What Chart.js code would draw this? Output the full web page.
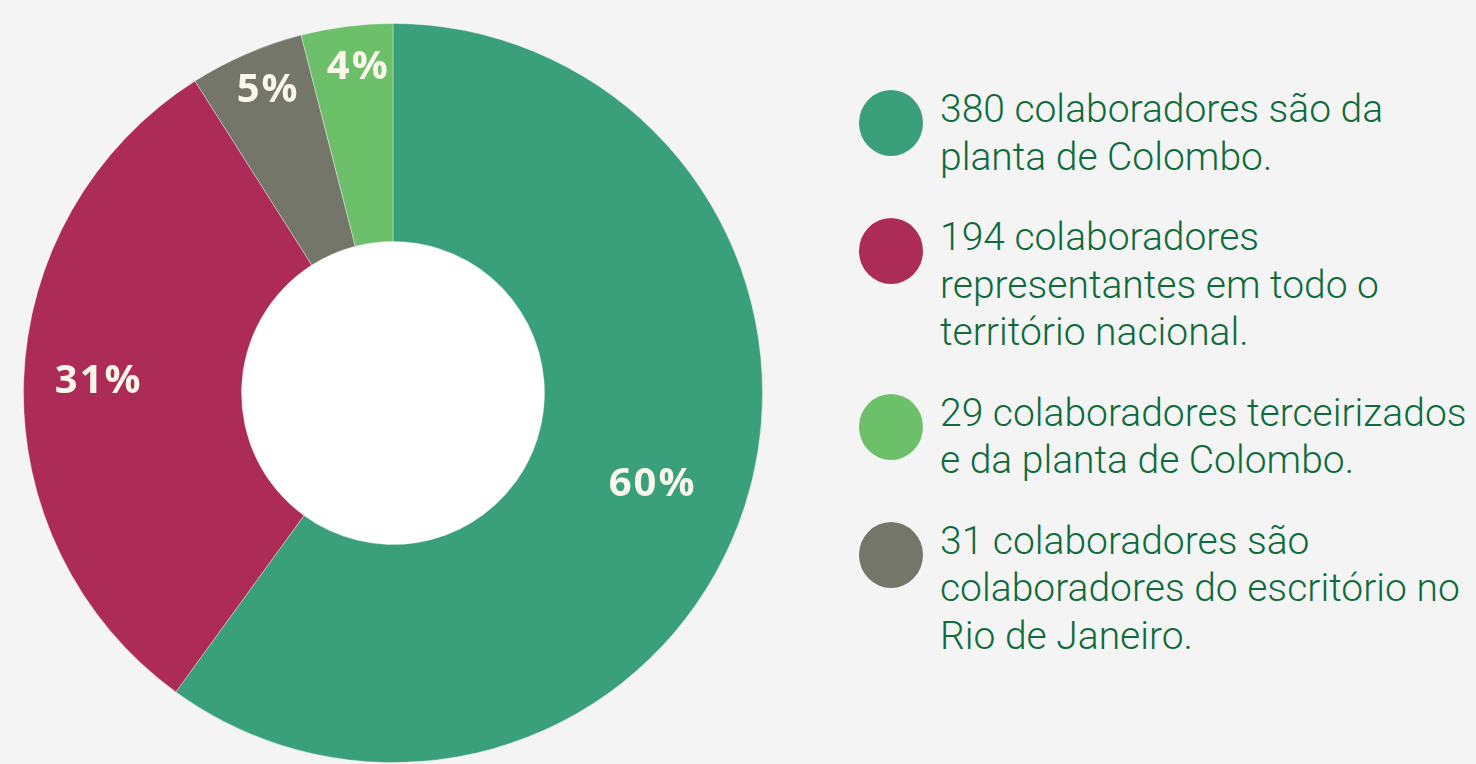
<!DOCTYPE html>
<html lang="pt-BR">
<head>
<meta charset="utf-8">
<title>Colaboradores</title>
<script src="https://cdn.jsdelivr.net/npm/chart.js@4.4.1/dist/chart.umd.min.js"></script>
<style>
    html, body {
        margin: 0;
        padding: 0;
        width: 1476px;
        height: 764px;
        overflow: hidden;
        background: #f4f4f4;
    }
    #chart-box {
        position: absolute;
        left: 23px;
        top: 23px;
        width: 740px;
        height: 740px;
    }
    #legend {
        position: absolute;
        left: 859px;
        top: 86px;
        list-style: none;
        margin: 0;
        padding: 0;
        font-family: Roboto, sans-serif;
        font-weight: 300;
        font-size: 39px;
        line-height: 47.5px;
        color: #0f6a3c;
    }
    #legend li {
        display: flex;
        align-items: flex-start;
        margin-bottom: 33px;
    }
    #legend .dot {
        flex: none;
        width: 64px;
        height: 66px;
        border-radius: 50%;
        margin-top: 4px;
        margin-right: 17px;
    }
</style>
</head>
<body>
<div id="chart-box"><canvas id="donut"></canvas></div>
<ul id="legend"></ul>

<script>
// DATI (ordine delle fette, in senso orario dall'alto)
const values = [60, 31, 5, 4];
const colors = ['#3a9f7b', '#ad2c57', '#74766a', '#6cc06a'];
const legendLines = [
    ['380 colaboradores são da', 'planta de Colombo.'],
    ['194 colaboradores', 'representantes em todo o', 'território nacional.'],
    ['31 colaboradores são', 'colaboradores do escritório no', 'Rio de Janeiro.'],
    ['29 colaboradores terceirizados', 'e da planta de Colombo.']
];
// la legenda mostra le voci in un ordine diverso
const legendOrder = [0, 1, 3, 2];

const total = values.reduce((a, b) => a + b, 0);

// foro centrale bianco
const whiteHole = {
    id: 'whiteHole',
    beforeDatasetsDraw(chart) {
        const arc = chart.getDatasetMeta(0).data[0];
        if (!arc) return;
        const ctx = chart.ctx;
        ctx.save();
        ctx.fillStyle = '#ffffff';
        ctx.beginPath();
        ctx.arc(arc.x, arc.y, arc.innerRadius, 0, Math.PI * 2);
        ctx.fill();
        ctx.restore();
    }
};

// percentuali sulle fette
const sliceLabels = {
    id: 'sliceLabels',
    afterDatasetsDraw(chart) {
        const ctx = chart.ctx;
        const arcs = chart.getDatasetMeta(0).data;
        ctx.save();
        ctx.font = '700 40px "Open Sans", sans-serif';
        ctx.letterSpacing = '2px';
        ctx.fillStyle = '#faf6e9';
        ctx.textAlign = 'center';
        ctx.textBaseline = 'alphabetic';
        arcs.forEach((arc, i) => {
            // piccola rotazione come nell'originale
            const mid = (arc.startAngle + arc.endAngle) / 2 + 0.017;
            const share = values[i] / total;
            // le fette piccole hanno l'etichetta più verso l'esterno
            const f = share > 0.5 ? 0.74 : share > 0.1 ? 0.8 : 0.893;
            const r = arc.outerRadius * f;
            const text = Math.round(share * 100) + '%';
            ctx.fillText(text, arc.x + Math.cos(mid) * r + 1, arc.y + Math.sin(mid) * r + 14);
        });
        ctx.restore();
    }
};

new Chart(document.getElementById('donut'), {
    type: 'doughnut',
    data: {
        labels: legendLines.map(l => l.join(' ')),
        datasets: [{
            data: values,
            backgroundColor: colors,
            borderWidth: 1,
            borderColor: 'rgba(255, 255, 255, 0.35)'
        }]
    },
    options: {
        responsive: true,
        maintainAspectRatio: false,
        animation: false,
        cutout: '41%',
        events: [],
        plugins: {
            legend: { display: false },
            tooltip: { enabled: false }
        }
    },
    plugins: [whiteHole, sliceLabels]
});

// LEGENDA HTML
const legend = document.getElementById('legend');
legendOrder.forEach(i => {
    const li = document.createElement('li');
    const dot = document.createElement('span');
    dot.className = 'dot';
    dot.style.background = colors[i];
    const text = document.createElement('span');
    text.innerHTML = legendLines[i].join('<br>');
    li.appendChild(dot);
    li.appendChild(text);
    legend.appendChild(li);
});
</script>
</body>
</html>
